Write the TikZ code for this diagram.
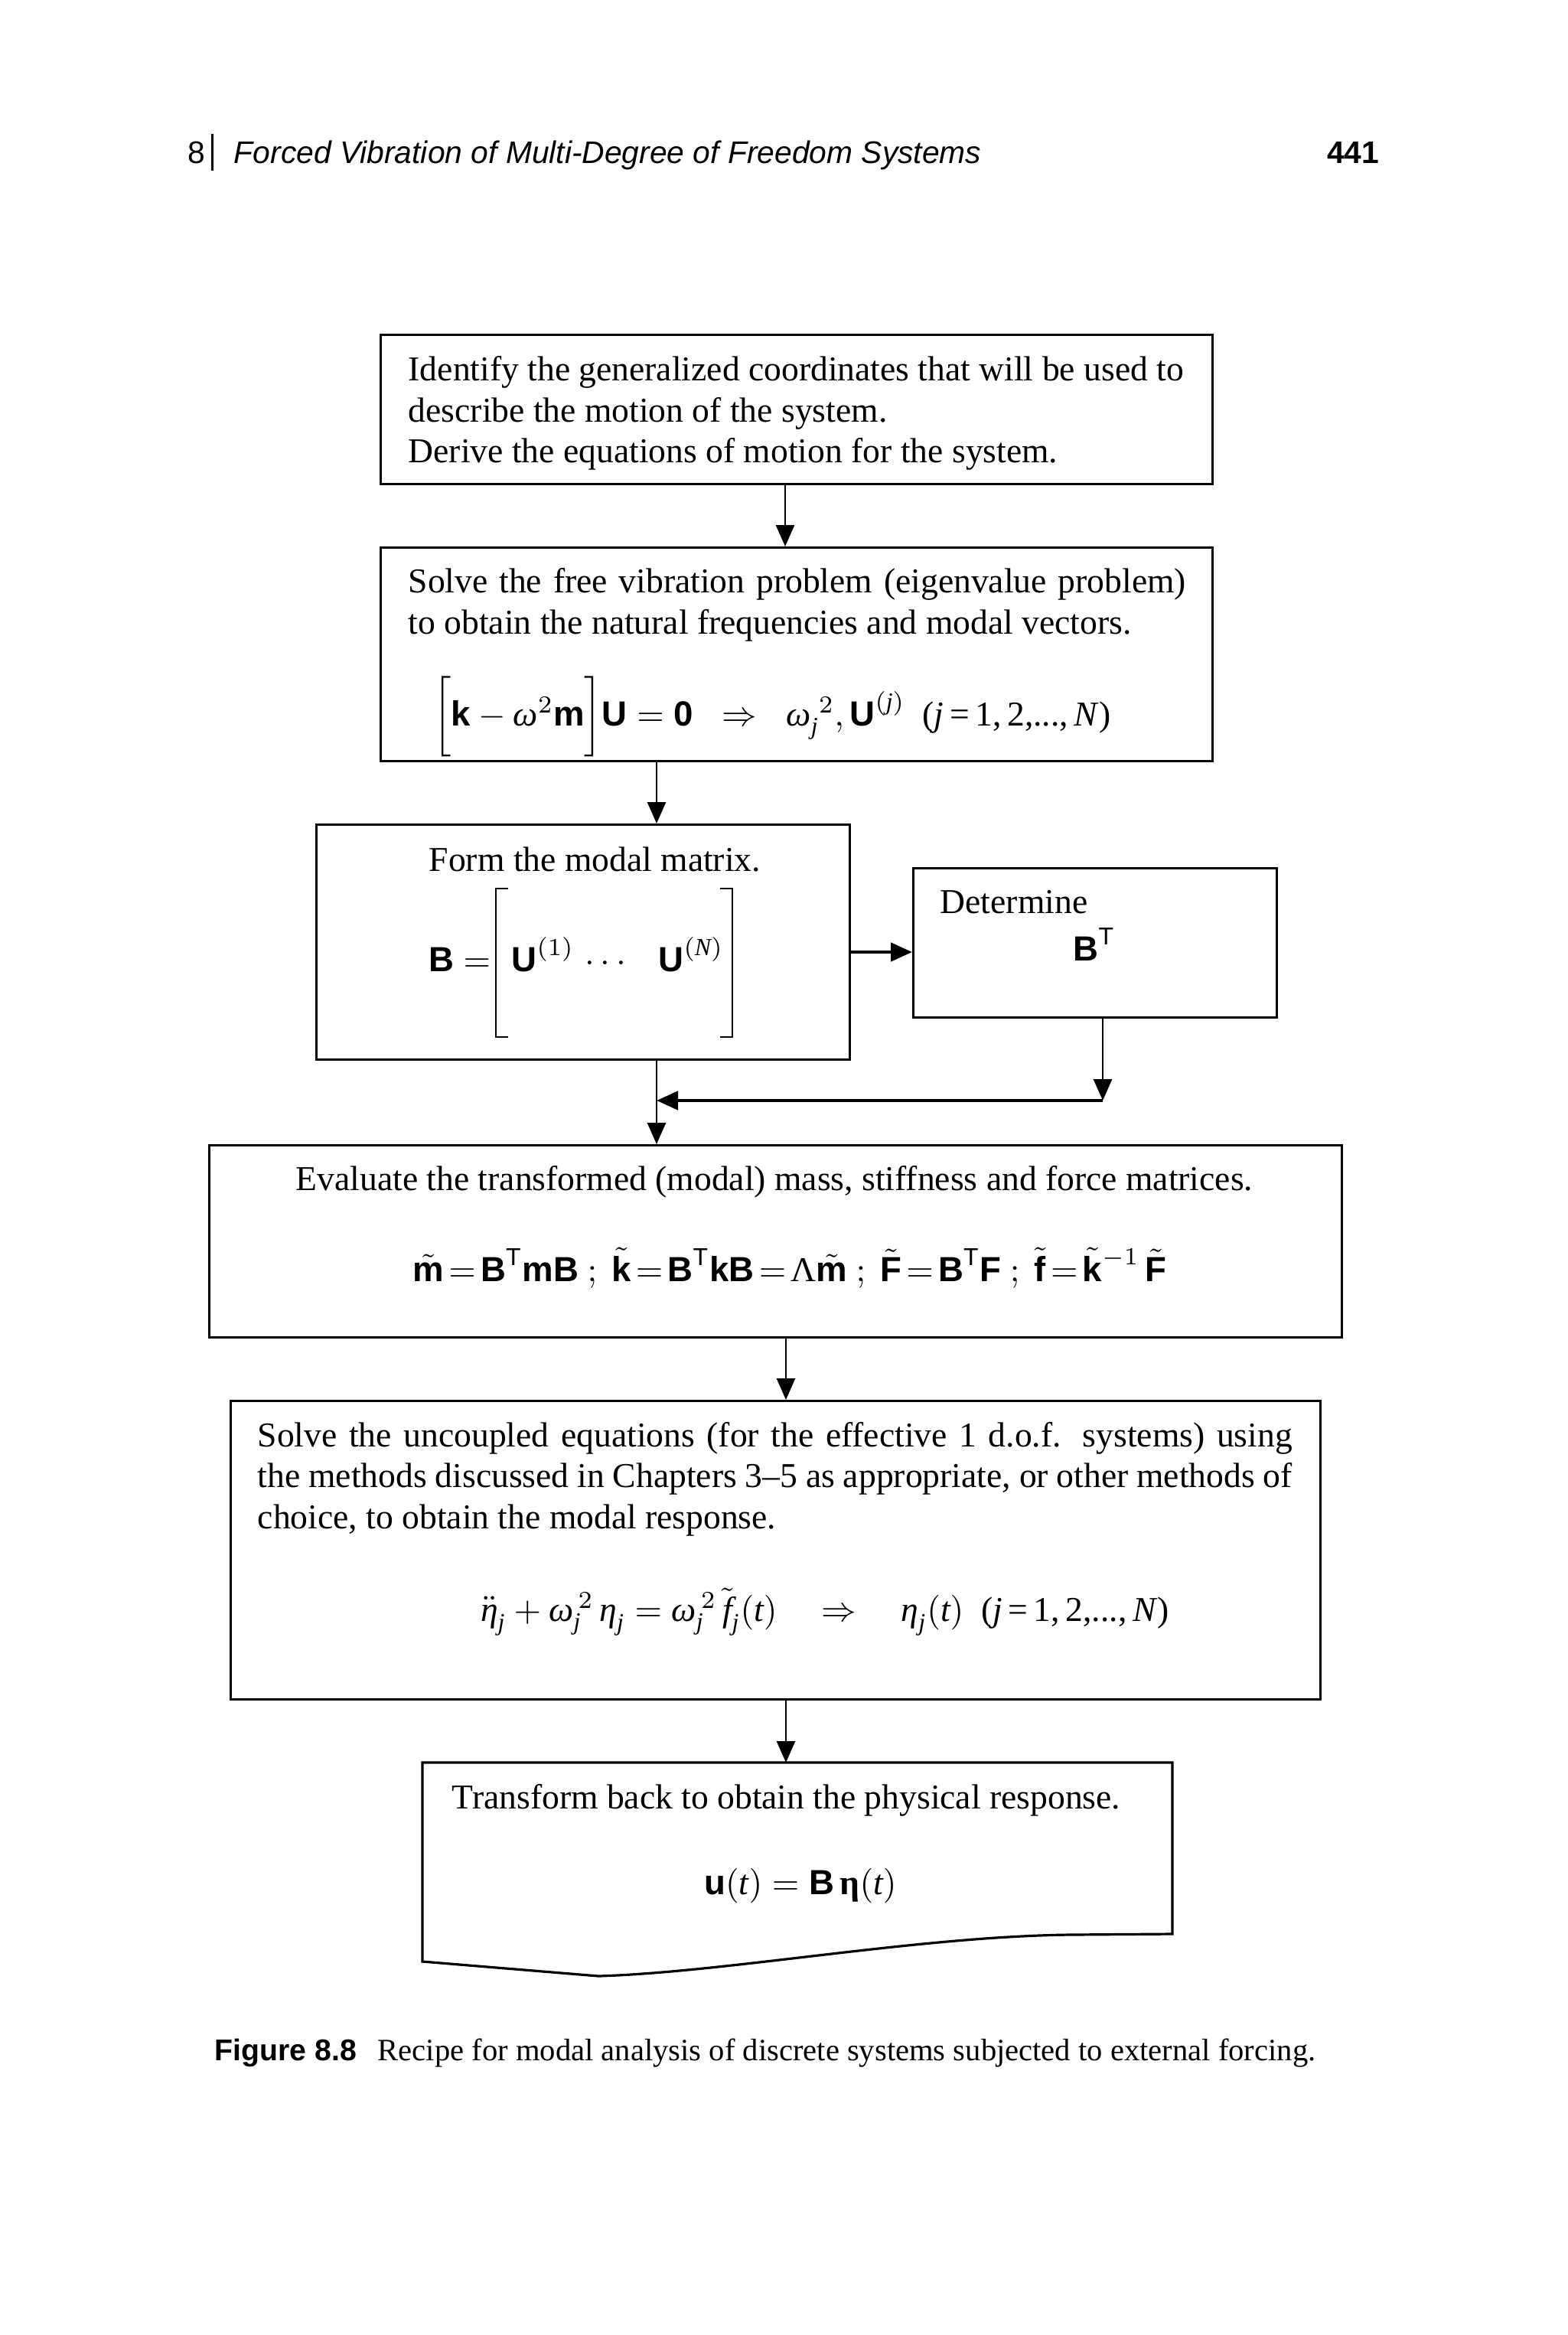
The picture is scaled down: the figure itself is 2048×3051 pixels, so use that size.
\documentclass[tikz,border=0pt]{standalone}
\usepackage{fix-cm}
\usepackage{amsmath}
\usepackage{fontspec}
\setmainfont{Liberation Serif}
\setsansfont{Liberation Sans}
\usetikzlibrary{arrows.meta}
\newcommand\ti[1]{\text{\normalfont\itshape #1}}
\newcommand\bsf[1]{\text{\normalfont\sffamily\bfseries #1}}
\newcommand\sT{\text{\normalfont\sffamily T}}
\newcommand\jrange{\text{\normalfont(\textit{j}\,=\,1,\,2,...,\,\textit{N})}}
\newcommand\mkbox[5]{\node[box, minimum width={(#4-#2)*0.25pt}, minimum height={(#5-#3)*0.25pt}] (#1) at (#2,#3) {};}
\begin{document}
\begin{tikzpicture}[x=0.25pt,y=-0.25pt,
  box/.style={draw, line width=0.8pt, inner sep=0pt, anchor=north west},
  arr/.style={line width=0.7pt, -{Triangle[length=7pt,width=6pt]}},
  harr/.style={line width=1.2pt, -{Triangle[length=7pt,width=6pt]}},
  tx/.style={inner sep=0pt, anchor=base west, font=\fontsize{11.4pt}{13.25pt}\selectfont},
  txc/.style={tx, anchor=base},
  hdr/.style={inner sep=0pt, anchor=base west, font=\sffamily\fontsize{10.2pt}{12pt}\selectfont}]
\fill[white] (0,0) rectangle (2048,3051);
\useasboundingbox (0,0) rectangle (2048,3051);

% header
\node[hdr] (chap) at (245,213) {8};
\draw[line width=0.75pt] (277,175) -- (277,223);
\node[hdr, font=\sffamily\itshape\fontsize{10.2pt}{12pt}\selectfont] (title) at (305,213) {Forced Vibration of Multi-Degree of Freedom Systems};
\node[hdr, anchor=base east, font=\sffamily\bfseries\fontsize{10.2pt}{12pt}\selectfont] (page) at (1803,213) {441};

% boxes
\mkbox{b1}{496}{436}{1583}{631}
\mkbox{b2}{496}{714}{1583}{993}
\mkbox{b3}{412}{1076}{1109}{1383}
\mkbox{b4}{1192}{1133}{1667}{1328}
\mkbox{b5}{272}{1495}{1752}{1746}
\mkbox{b6}{300}{1829}{1724}{2219}
\node[inner sep=0pt, anchor=north west, minimum width={980*0.25pt}, minimum height={279*0.25pt}] (b7) at (552,2303) {};
\draw[line width=0.8pt] (552,2563) -- (552,2303) -- (1532,2303) -- (1532,2527) -- (1399,2528)
  .. controls (1200,2530) and (950,2577) .. (782,2582) -- cycle;

% box 1
\node[tx] (t1a) at (533,497) {Identify the generalized coordinates that will be used to};
\node[tx] (t1b) at (533,551) {describe the motion of the system.};
\node[tx] (t1c) at (533,604) {Derive the equations of motion for the system.};

% box 2
\node[tx] (t2a) at (533,774) {\makebox[254pt][s]{Solve the free vibration problem (eigenvalue problem)}};
\node[tx] (t2b) at (533,828) {to obtain the natural frequencies and modal vectors.};
\node[txc] (f2) at (1009,948) {$\biggl[\bsf{k} - \ti{ω}^{2}\bsf{m}\biggr]\bsf{U} = \bsf{0} \;\;\Rightarrow\;\; \ti{ω}_{\ti{j}}^{\;2}, \bsf{U}^{(\ti{j})}\ \ \jrange$};

% box 3
\node[tx] (t3) at (560,1138) {Form the modal matrix.};
\node[tx, anchor=base east] (fB) at (642,1269) {$\bsf{B} =$};
\draw[line width=0.45pt] (664,1161) -- (648,1161) -- (648,1355) -- (664,1355);
\draw[line width=0.45pt] (941,1161) -- (957,1161) -- (957,1355) -- (941,1355);
\node[tx] (fU1) at (668,1269) {$\bsf{U}^{(1)}$};
\node[txc] (fdots) at (795,1269) {$\cdots$};
\node[tx] (fUN) at (860,1269) {$\bsf{U}^{(\ti{N})}$};

% box 4
\node[tx] (t4) at (1228,1193) {Determine};
\node[tx] (f4) at (1402,1255) {$\bsf{B}^{\sT}$};

% box 5
\node[txc] (t5) at (1012,1555) {Evaluate the transformed (modal) mass, stiffness and force matrices.};
\node[txc] (f5) at (1032,1674) {\thickmuskip=2.5mu\relax$\tilde{\bsf{m}} = \bsf{B}^{\sT}\bsf{mB}\ ;\ \tilde{\bsf{k}} = \bsf{B}^{\sT}\bsf{kB} = \text{Λ}\tilde{\bsf{m}}\ ;\ \tilde{\bsf{F}} = \bsf{B}^{\sT}\bsf{F}\ ;\ \tilde{\bsf{f}} = \smash[t]{\tilde{\bsf{k}}}{\vphantom{\bsf{k}}}^{-1}\,\tilde{\bsf{F}}$};

% box 6
\node[tx] (t6a) at (336,1890) {\makebox[338pt][s]{Solve the uncoupled equations (for the effective 1 d.o.f. systems) using}};
\node[tx] (t6b) at (336,1943) {\makebox[338pt][s]{the methods discussed in Chapters 3–5 as appropriate, or other methods of}};
\node[tx] (t6c) at (336,1997) {choice, to obtain the modal response.};
\node[txc] (f6) at (1078,2118) {$\ddot{\ti{η}}_{\ti{j}} + \ti{ω}_{\ti{j}}^{\,2}\,\ti{η}_{\ti{j}} = \ti{ω}_{\ti{j}}^{\,2}\,\tilde{\ti{f}}_{\ti{j}}(\ti{t}) \quad\Rightarrow\quad \ti{η}_{\ti{j}}(\ti{t})\ \ \jrange$};

% box 7
\node[tx] (t7) at (590,2363) {Transform back to obtain the physical response.};
\node[txc] (f7) at (1046,2475) {$\bsf{u}(\ti{t}) = \bsf{B}\,\text{\normalfont\bfseries η}(\ti{t})$};

% connectors
\coordinate (xa) at (1026,0);
\coordinate (xb) at (858,0);
\coordinate (xc) at (1441,0);
\coordinate (xd) at (1027,0);
\coordinate (ya) at (0,1244);
\coordinate (jr) at (1441,1438);
\coordinate (jl) at (858,1438);
\draw[arr] (xa |- b1.south) -- (xa |- b2.north);
\draw[arr] (xb |- b2.south) -- (xb |- b3.north);
\draw[harr] (b3.east |- ya) -- (b4.west |- ya);
\draw[arr] (xc |- b4.south) -- (jr);
\draw[harr] (jr) -- (jl);
\draw[arr] (xb |- b3.south) -- (xb |- b5.north);
\draw[arr] (xd |- b5.south) -- (xd |- b6.north);
\draw[arr] (xd |- b6.south) -- (xd |- b7.north);

% caption
\node[hdr, font=\sffamily\bfseries\fontsize{9.8pt}{12pt}\selectfont] (figlab) at (280,2692) {Figure 8.8};
\node[hdr, font=\rmfamily\fontsize{10.15pt}{12pt}\selectfont] (figcap) at (493,2692) {Recipe for modal analysis of discrete systems subjected to external forcing.};
\end{tikzpicture}
\end{document}
